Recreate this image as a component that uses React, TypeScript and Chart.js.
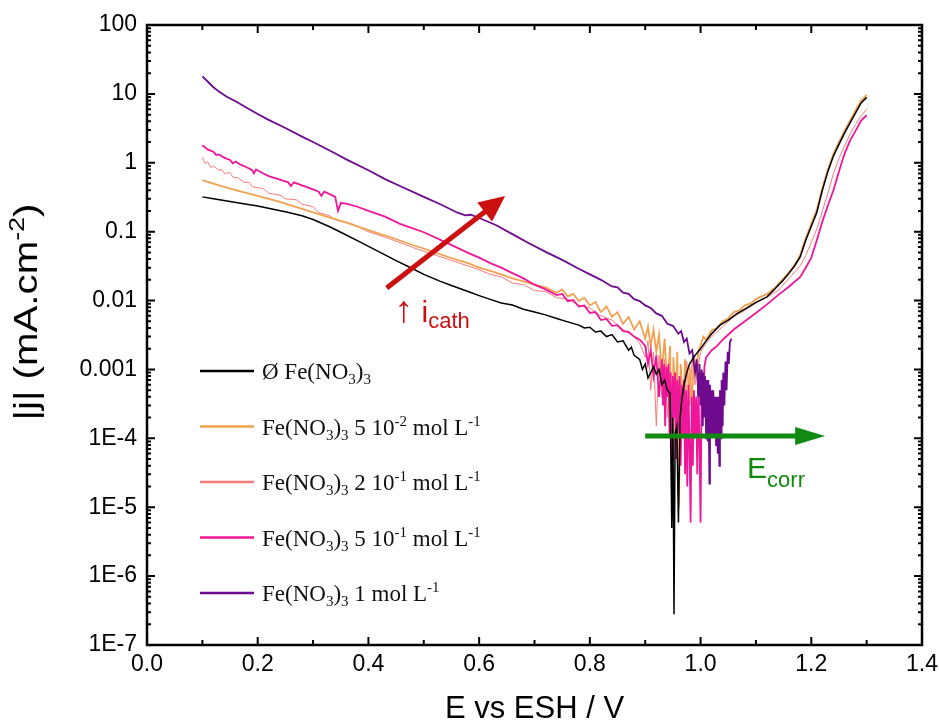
import React, { useEffect, useRef } from "react";
import { Chart, registerables } from "chart.js";

Chart.register(...registerables);

// ---------- data (E vs ESH in V, |j| in mA.cm-2) ----------
const blackCurve: [number, number][] = [
  [0.10, 0.32], [0.12, 0.30], [0.15, 0.275], [0.18, 0.25], [0.20, 0.235], [0.23, 0.21], [0.25, 0.195],
  [0.28, 0.17], [0.30, 0.15], [0.33, 0.118], [0.35, 0.098], [0.38, 0.074], [0.40, 0.061], [0.43, 0.046],
  [0.45, 0.038], [0.48, 0.029], [0.50, 0.024], [0.53, 0.019], [0.55, 0.0165], [0.58, 0.0135], [0.60, 0.0118],
  [0.62, 0.0104], [0.64, 0.0092], [0.66, 0.0086], [0.68, 0.0075], [0.70, 0.0068], [0.72, 0.0062], [0.74, 0.0055],
  [0.76, 0.0049], [0.78, 0.0044], [0.79, 0.0040], [0.80, 0.0041], [0.81, 0.0035], [0.82, 0.0036], [0.83, 0.0030],
  [0.84, 0.0032], [0.85, 0.0025], [0.86, 0.0026], [0.87, 0.0019], [0.875, 0.0021], [0.88, 0.0016], [0.89, 0.0014],
  [0.895, 0.0010], [0.90, 0.0012], [0.905, 0.00075], [0.91, 0.0009], [0.915, 0.0011], [0.92, 0.00085],
  [0.925, 0.0010], [0.93, 0.0006], [0.935, 0.0007], [0.94, 0.0005], [0.945, 0.00045], [0.948, 5e-6],
  [0.950, 0.0002], [0.952, 2.8e-7], [0.954, 0.00012], [0.957, 0.00015], [0.960, 6e-6], [0.963, 0.0002],
  [0.966, 0.00036], [0.97, 0.0006], [0.975, 0.0009], [0.98, 0.0012], [0.99, 0.0016], [1.00, 0.0020],
  [1.01, 0.0026], [1.02, 0.0033], [1.035, 0.0044], [1.05, 0.0052], [1.065, 0.0064], [1.08, 0.0075],
  [1.10, 0.0094], [1.12, 0.0113], [1.135, 0.015], [1.15, 0.020], [1.16, 0.025], [1.17, 0.032], [1.18, 0.043],
  [1.19, 0.075], [1.20, 0.12], [1.21, 0.19], [1.22, 0.40], [1.23, 0.75], [1.24, 1.25], [1.25, 1.85],
  [1.26, 2.7], [1.27, 3.8], [1.28, 5.3], [1.29, 7.4], [1.30, 8.9],
];

const orangeCurve: [number, number][] = [
  [0.10, 0.56], [0.13, 0.47], [0.16, 0.40], [0.20, 0.33], [0.24, 0.27], [0.28, 0.215], [0.32, 0.17],
  [0.36, 0.135], [0.40, 0.105], [0.44, 0.083], [0.48, 0.064], [0.50, 0.057], [0.52, 0.050], [0.54, 0.044],
  [0.56, 0.039], [0.58, 0.035], [0.60, 0.030], [0.62, 0.027], [0.64, 0.024], [0.66, 0.021], [0.68, 0.019],
  [0.70, 0.017], [0.72, 0.0155], [0.74, 0.013], [0.75, 0.0145], [0.76, 0.0115], [0.77, 0.0125], [0.78, 0.0098],
  [0.79, 0.011], [0.80, 0.0085], [0.81, 0.0095], [0.82, 0.0068], [0.83, 0.0082], [0.84, 0.0058], [0.85, 0.0068],
  [0.86, 0.0046], [0.87, 0.0058], [0.88, 0.0038], [0.89, 0.0050], [0.90, 0.0028], [0.905, 0.0042], [0.91, 0.0022],
  [0.915, 0.0038], [0.92, 0.0018], [0.925, 0.0032], [0.93, 0.0009], [0.935, 0.0028], [0.94, 0.0006],
  [0.945, 0.0022], [0.948, 2.2e-5], [0.951, 0.0015], [0.955, 0.0003], [0.958, 0.0018], [0.961, 1e-5],
  [0.964, 0.0012], [0.968, 0.0002], [0.972, 0.0014], [0.976, 0.0001], [0.98, 0.0011], [0.984, 0.0003],
  [0.988, 0.0016], [0.992, 0.0008], [0.996, 0.0019], [1.00, 0.0022], [1.005, 0.0030], [1.01, 0.0027],
  [1.02, 0.0037], [1.03, 0.0040], [1.04, 0.0050], [1.05, 0.0055], [1.06, 0.0068], [1.07, 0.0072],
  [1.08, 0.0085], [1.09, 0.0090], [1.10, 0.0105], [1.12, 0.0125], [1.135, 0.0155], [1.15, 0.021],
  [1.16, 0.026], [1.17, 0.033], [1.18, 0.046], [1.19, 0.08], [1.20, 0.13], [1.21, 0.21], [1.22, 0.43],
  [1.23, 0.8], [1.24, 1.35], [1.25, 2.0], [1.26, 2.9], [1.27, 4.1], [1.28, 5.8], [1.29, 8.0], [1.30, 9.7],
];

const salmonCurve: [number, number][] = [
  [0.10, 1.2], [0.105, 0.98], [0.11, 1.02], [0.115, 0.85], [0.12, 0.9], [0.13, 0.78], [0.135, 0.8],
  [0.14, 0.7], [0.15, 0.72], [0.155, 0.62], [0.165, 0.6], [0.175, 0.52], [0.185, 0.52], [0.19, 0.45],
  [0.21, 0.42], [0.22, 0.36], [0.24, 0.34], [0.25, 0.30], [0.27, 0.29], [0.28, 0.25], [0.30, 0.23],
  [0.31, 0.19], [0.33, 0.17], [0.34, 0.15], [0.37, 0.13], [0.40, 0.10], [0.44, 0.078], [0.48, 0.059],
  [0.52, 0.046], [0.56, 0.036], [0.60, 0.028], [0.62, 0.024], [0.64, 0.022], [0.66, 0.018], [0.68, 0.017],
  [0.70, 0.014], [0.72, 0.0135], [0.74, 0.011], [0.76, 0.0105], [0.78, 0.0085], [0.80, 0.0078],
  [0.82, 0.006], [0.84, 0.0052], [0.86, 0.0038], [0.88, 0.003], [0.89, 0.0024], [0.90, 0.0015],
  [0.905, 0.0026], [0.91, 0.0005], [0.915, 0.0018], [0.92, 0.00015], [0.925, 0.0016], [0.93, 0.0004],
  [0.935, 0.0014], [0.94, 0.0002], [0.945, 0.0012], [0.95, 3e-5], [0.955, 0.0009], [0.96, 0.00008],
  [0.965, 0.0011], [0.97, 0.00015], [0.975, 0.0013], [0.98, 0.0003], [0.985, 0.0015], [0.99, 0.0006],
  [1.00, 0.0018], [1.01, 0.0024], [1.02, 0.003], [1.04, 0.0042], [1.06, 0.0058], [1.08, 0.0072],
  [1.10, 0.0092], [1.12, 0.0112], [1.14, 0.014], [1.16, 0.021], [1.18, 0.032], [1.19, 0.045], [1.20, 0.07],
  [1.21, 0.11], [1.22, 0.2], [1.23, 0.36], [1.24, 0.7], [1.25, 1.15], [1.26, 1.75], [1.27, 2.6],
  [1.28, 3.6], [1.29, 4.8], [1.30, 6.0],
];

const pinkCurve: [number, number][] = [
  [0.10, 1.8], [0.11, 1.55], [0.12, 1.45], [0.125, 1.3], [0.13, 1.32], [0.14, 1.18], [0.15, 1.1],
  [0.155, 0.98], [0.16, 1.04], [0.17, 0.93], [0.18, 0.86], [0.19, 0.78], [0.193, 0.7], [0.197, 0.8],
  [0.21, 0.7], [0.22, 0.64], [0.24, 0.57], [0.255, 0.52], [0.26, 0.46], [0.265, 0.52], [0.28, 0.47],
  [0.30, 0.41], [0.31, 0.38], [0.315, 0.33], [0.32, 0.38], [0.33, 0.35], [0.34, 0.32], [0.345, 0.2],
  [0.35, 0.26], [0.36, 0.255], [0.38, 0.23], [0.40, 0.20], [0.43, 0.165], [0.457, 0.13], [0.50, 0.098],
  [0.54, 0.07], [0.578, 0.05], [0.60, 0.042], [0.62, 0.035], [0.64, 0.03], [0.66, 0.025], [0.68, 0.021],
  [0.70, 0.017], [0.72, 0.0145], [0.74, 0.012], [0.75, 0.0125], [0.76, 0.0098], [0.77, 0.0102],
  [0.78, 0.0082], [0.79, 0.0085], [0.80, 0.0066], [0.81, 0.0068], [0.82, 0.0052], [0.83, 0.0054],
  [0.84, 0.0043], [0.85, 0.0044], [0.86, 0.0036], [0.87, 0.0035], [0.88, 0.003], [0.89, 0.0027],
  [0.90, 0.0022], [0.905, 0.0012], [0.91, 0.0019], [0.915, 0.0008], [0.92, 0.0016], [0.925, 0.0004],
  [0.93, 0.0014], [0.932, 0.0003], [0.934, 0.0012], [0.936, 0.00015], [0.938, 0.0011], [0.94, 0.0004],
  [0.942, 0.0012], [0.944, 0.0001], [0.946, 0.0009], [0.948, 0.00006], [0.95, 0.0008], [0.952, 0.0002],
  [0.954, 0.0009], [0.956, 0.00005], [0.958, 0.0007], [0.96, 0.00012], [0.962, 0.0008], [0.964, 0.00004],
  [0.966, 0.0006], [0.968, 0.0001], [0.97, 0.0007], [0.972, 0.00003], [0.974, 0.0005], [0.976, 2e-5],
  [0.978, 0.0006], [0.98, 0.00008], [0.982, 6e-6], [0.984, 0.0004], [0.986, 4e-5], [0.988, 0.0005],
  [0.99, 0.0001], [0.992, 0.0004], [0.994, 3e-5], [0.996, 0.0006], [0.998, 0.00008], [1.00, 6e-6],
  [1.002, 0.0007], [1.004, 0.0003], [1.007, 0.0011], [1.01, 0.0015],
  [1.02, 0.0019], [1.03, 0.0022], [1.04, 0.0027], [1.06, 0.0038], [1.08, 0.005],
  [1.10, 0.0066], [1.12, 0.0088], [1.14, 0.012], [1.16, 0.016], [1.18, 0.022], [1.19, 0.030], [1.20, 0.042],
  [1.21, 0.075], [1.22, 0.14], [1.23, 0.24], [1.24, 0.40], [1.25, 0.75], [1.26, 1.35], [1.27, 2.1],
  [1.28, 2.9], [1.29, 4.1], [1.30, 4.9],
];

const purpleCurve: [number, number][] = [
  [0.10, 18], [0.11, 15], [0.12, 12.5], [0.13, 10.8], [0.144, 9.1], [0.16, 7.8], [0.18, 6.3], [0.20, 5.1],
  [0.217, 4.3], [0.25, 3.2], [0.28, 2.4], [0.30, 2.0], [0.336, 1.42], [0.36, 1.12], [0.40, 0.78],
  [0.43, 0.58], [0.457, 0.46], [0.50, 0.32], [0.53, 0.25], [0.56, 0.19], [0.575, 0.172], [0.585, 0.176],
  [0.60, 0.158], [0.63, 0.125], [0.66, 0.092], [0.69, 0.068], [0.722, 0.05], [0.75, 0.039], [0.78, 0.029],
  [0.80, 0.024], [0.82, 0.020], [0.84, 0.016], [0.85, 0.0155], [0.86, 0.013], [0.87, 0.0125], [0.88, 0.0105],
  [0.89, 0.0098], [0.90, 0.0085], [0.91, 0.0078], [0.92, 0.0065], [0.93, 0.006], [0.94, 0.0046],
  [0.95, 0.0043], [0.96, 0.0033], [0.965, 0.0036], [0.97, 0.0025], [0.975, 0.0028], [0.98, 0.0017],
  [0.985, 0.0019], [0.99, 0.0009], [0.993, 0.0014], [0.996, 0.0004], [0.998, 0.0012], [1.0, 0.0003],
  [1.002, 0.0010], [1.004, 0.00015], [1.005, 0.0009], [1.007, 0.0002], [1.008, 0.0008], [1.010, 0.0001],
  [1.011, 0.0007], [1.013, 0.00009], [1.014, 0.0007], [1.016, 2.2e-5], [1.017, 0.0006], [1.019, 0.00012],
  [1.020, 0.0005], [1.022, 0.0001], [1.023, 0.0005], [1.025, 0.00011], [1.026, 0.0004], [1.028, 0.00008],
  [1.029, 0.0004], [1.031, 6e-5], [1.032, 0.0004], [1.034, 4e-5], [1.035, 0.0005], [1.037, 0.0001],
  [1.038, 0.0007], [1.040, 0.00015], [1.041, 0.0009], [1.043, 0.0003], [1.045, 0.0013], [1.047, 0.0005],
  [1.049, 0.0018], [1.051, 0.0012], [1.053, 0.0025], [1.056, 0.0028],
];

const seriesCurves = [blackCurve, orangeCurve, salmonCurve, pinkCurve, purpleCurve];
const seriesColors = ["#000000", "#f2a150", "#f97a7a", "#f0169a", "#6d0a8e"];
const seriesWidths = [1.5, 1.8, 1.0, 1.8, 1.8];
const seriesOrder = [0, 3, 4, 2, 1];

type Seg = [string, "n" | "sub" | "sup" | "big"];
const seriesLabels: Seg[][] = [
  [["Ø Fe(NO", "n"], ["3", "sub"], [")", "n"], ["3", "sub"]],
  [["Fe(NO", "n"], ["3", "sub"], [")", "n"], ["3", "sub"], [" 5 10", "n"], ["-2", "sup"], [" mol L", "n"], ["-1", "sup"]],
  [["Fe(NO", "n"], ["3", "sub"], [")", "n"], ["3", "sub"], [" 2 10", "n"], ["-1", "sup"], [" mol L", "n"], ["-1", "sup"]],
  [["Fe(NO", "n"], ["3", "sub"], [")", "n"], ["3", "sub"], [" 5 10", "n"], ["-1", "sup"], [" mol L", "n"], ["-1", "sup"]],
  [["Fe(NO", "n"], ["3", "sub"], [")", "n"], ["3", "sub"], [" 1 mol L", "n"], ["-1", "sup"]],
];

const xTickValues = [0, 0.2, 0.4, 0.6, 0.8, 1.0, 1.2, 1.4];
const yTickValues = [1e-7, 1e-6, 1e-5, 1e-4, 1e-3, 1e-2, 1e-1, 1, 10, 100];

const xTitle = "E vs ESH / V";
const yTitle: Seg[] = [["|j| (mA.cm", "n"], ["-2", "sup"], [")", "n"]];
const cathLabel: Seg[] = [["↑", "big"], [" i", "n"], ["cath", "sub"]];
const corrLabel: Seg[] = [["E", "n"], ["corr", "sub"]];

// annotation anchors in data coordinates
const cathArrow = { from: [0.433, 0.0152], to: [0.647, 0.33] };
const corrArrow = { from: [0.9, 1.08e-4], to: [1.225, 1.08e-4] };
const cathText = [0.447, 0.0049];
const corrText = [1.084, 2.66e-5];

const SANS = "'Liberation Sans', Arial, sans-serif";
const SERIF = "'Liberation Serif', 'Times New Roman', serif";

function drawRich(ctx: CanvasRenderingContext2D, segs: Seg[], x: number, y: number, base: number, family: string, small: number, subDy: number, supDy: number) {
  for (const [t, kind] of segs) {
    const size = kind === "n" ? base : kind === "big" ? base * 1.25 : small;
    const dy = kind === "sub" ? subDy : kind === "sup" ? supDy : 0;
    ctx.font = `${size}px ${family}`;
    ctx.fillText(t, x, y + dy);
    x += ctx.measureText(t).width;
  }
  return x;
}

function richWidth(ctx: CanvasRenderingContext2D, segs: Seg[], base: number, family: string, small: number) {
  let w = 0;
  for (const [t, kind] of segs) {
    ctx.font = `${kind === "n" ? base : small}px ${family}`;
    w += ctx.measureText(t).width;
  }
  return w;
}

function drawArrow(ctx: CanvasRenderingContext2D, x1: number, y1: number, x2: number, y2: number, color: string, lw: number, headLen: number, headHalf: number) {
  const ang = Math.atan2(y2 - y1, x2 - x1);
  const bx = x2 - headLen * Math.cos(ang);
  const by = y2 - headLen * Math.sin(ang);
  ctx.strokeStyle = color;
  ctx.fillStyle = color;
  ctx.lineWidth = lw;
  ctx.lineCap = "butt";
  ctx.beginPath();
  ctx.moveTo(x1, y1);
  ctx.lineTo(bx + Math.cos(ang) * 2, by + Math.sin(ang) * 2);
  ctx.stroke();
  ctx.beginPath();
  ctx.moveTo(x2, y2);
  ctx.lineTo(bx + headHalf * Math.sin(ang), by - headHalf * Math.cos(ang));
  ctx.lineTo(bx - headHalf * Math.sin(ang), by + headHalf * Math.cos(ang));
  ctx.closePath();
  ctx.fill();
}

const decorPlugin = {
  id: "decor",
  afterDraw(chart: any) {
    const ctx: CanvasRenderingContext2D = chart.ctx;
    const a = chart.chartArea;
    const xs = chart.scales.x;
    const ys = chart.scales.y;
    ctx.save();

    // frame
    ctx.strokeStyle = "#000";
    ctx.lineWidth = 2.5;
    ctx.strokeRect(a.left, a.top, a.right - a.left, a.bottom - a.top);

    // inward ticks
    ctx.lineWidth = 2;
    ctx.beginPath();
    for (let i = 0; i <= 14; i++) {
      const px = xs.getPixelForValue(i / 10);
      const len = i % 2 === 0 ? 8 : 5;
      ctx.moveTo(px, a.bottom);
      ctx.lineTo(px, a.bottom - len);
      ctx.moveTo(px, a.top);
      ctx.lineTo(px, a.top + len);
    }
    for (let e = -7; e <= 2; e++) {
      for (let k = 1; k <= 9; k++) {
        if (e === 2 && k > 1) break;
        const py = ys.getPixelForValue(k * Math.pow(10, e));
        const len = k === 1 ? 8 : 4;
        ctx.moveTo(a.left, py);
        ctx.lineTo(a.left + len, py);
        ctx.moveTo(a.right, py);
        ctx.lineTo(a.right - len, py);
      }
    }
    ctx.stroke();

    // axis titles
    ctx.fillStyle = "#000";
    ctx.textBaseline = "alphabetic";
    ctx.font = `31px ${SANS}`;
    ctx.textAlign = "center";
    ctx.fillText(xTitle, (a.left + a.right) / 2, 718);
    ctx.textAlign = "left";
    const yw = richWidth(ctx, yTitle, 33, SANS, 22);
    ctx.save();
    ctx.translate(37, 312);
    ctx.rotate(-Math.PI / 2);
    ctx.scale(1.22, 1);
    drawRich(ctx, yTitle, -yw / 2, 0, 33, SANS, 22, 0, -13);
    ctx.restore();

    // legend
    const lx = a.left + 53;
    for (let i = 0; i < seriesLabels.length; i++) {
      const y = a.top + 346 + i * 55.5;
      ctx.strokeStyle = seriesColors[i];
      ctx.lineWidth = 2.5;
      ctx.beginPath();
      ctx.moveTo(lx, y);
      ctx.lineTo(lx + 54, y);
      ctx.stroke();
      ctx.fillStyle = "#111";
      drawRich(ctx, seriesLabels[i], lx + 62, y + 8, 23, SERIF, 15, 5, -9);
    }

    // annotations
    ctx.beginPath();
    ctx.rect(a.left, a.top, a.right - a.left, a.bottom - a.top);
    ctx.clip();
    drawArrow(ctx,
      xs.getPixelForValue(cathArrow.from[0]), ys.getPixelForValue(cathArrow.from[1]),
      xs.getPixelForValue(cathArrow.to[0]), ys.getPixelForValue(cathArrow.to[1]),
      "#cc1010", 5, 26, 12);
    drawArrow(ctx,
      xs.getPixelForValue(corrArrow.from[0]), ys.getPixelForValue(corrArrow.from[1]),
      xs.getPixelForValue(corrArrow.to[0]), ys.getPixelForValue(corrArrow.to[1]),
      "#108a10", 5, 30, 9);
    ctx.fillStyle = "#cc1010";
    drawRich(ctx, cathLabel, xs.getPixelForValue(cathText[0]), ys.getPixelForValue(cathText[1]), 30, SANS, 22, 6, 0);
    ctx.fillStyle = "#108a10";
    drawRich(ctx, corrLabel, xs.getPixelForValue(corrText[0]), ys.getPixelForValue(corrText[1]), 30, SANS, 22, 9, 0);

    ctx.restore();
  },
};

function fmtY(v: number) {
  const e = Math.round(Math.log10(v));
  if (e >= -3) return String(Number(v.toPrecision(1)));
  return "1E" + e;
}

export default function App() {
  const ref = useRef<HTMLCanvasElement>(null);
  useEffect(() => {
    const canvas = ref.current!;
    const chart = new Chart(canvas, {
      type: "line",
      data: {
        datasets: seriesCurves.map((c, i) => ({
          label: seriesLabels[i].map((s) => s[0]).join(""),
          data: c.map(([x, y]) => ({ x, y })),
          borderColor: seriesColors[i],
          borderWidth: seriesWidths[i],
          pointRadius: 0,
          tension: 0,
          fill: false,
          order: seriesOrder[i],
        })),
      },
      options: {
        animation: false,
        responsive: false,
        devicePixelRatio: 1,
        layout: { padding: { top: 25, right: 17, left: 0, bottom: 0 } },
        plugins: { legend: { display: false }, tooltip: { enabled: false } },
        scales: {
          x: {
            type: "linear",
            min: 0,
            max: 1.4,
            afterBuildTicks: (s: any) => {
              s.ticks = xTickValues.map((v) => ({ value: v }));
            },
            afterFit: (s: any) => {
              s.height = 79;
              s.paddingLeft = 0;
              s.paddingRight = 0;
            },
            ticks: {
              callback: (v: any) => Number(v).toFixed(1),
              font: { family: SANS, size: 23 },
              color: "#000",
              padding: 6,
              maxRotation: 0,
              autoSkip: false,
            },
            grid: { display: false, drawTicks: false },
            border: { display: false },
          },
          y: {
            type: "logarithmic",
            min: 1e-7,
            max: 100,
            afterBuildTicks: (s: any) => {
              s.ticks = yTickValues.map((v) => ({ value: v }));
            },
            afterFit: (s: any) => {
              s.width = 147;
              s.paddingTop = 0;
              s.paddingBottom = 0;
            },
            ticks: {
              callback: (v: any) => fmtY(Number(v)),
              font: { family: SANS, size: 23 },
              color: "#000",
              padding: 10,
              autoSkip: false,
            },
            grid: { display: false, drawTicks: false },
            border: { display: false },
          },
        },
      },
      plugins: [decorPlugin],
    } as any);
    return () => chart.destroy();
  }, []);
  return (
    <div style={{ position: "absolute", left: 0, top: 0, width: 939, height: 724, background: "#fff" }}>
      <canvas ref={ref} width={939} height={724} style={{ display: "block", width: 939, height: 724 }} />
    </div>
  );
}
